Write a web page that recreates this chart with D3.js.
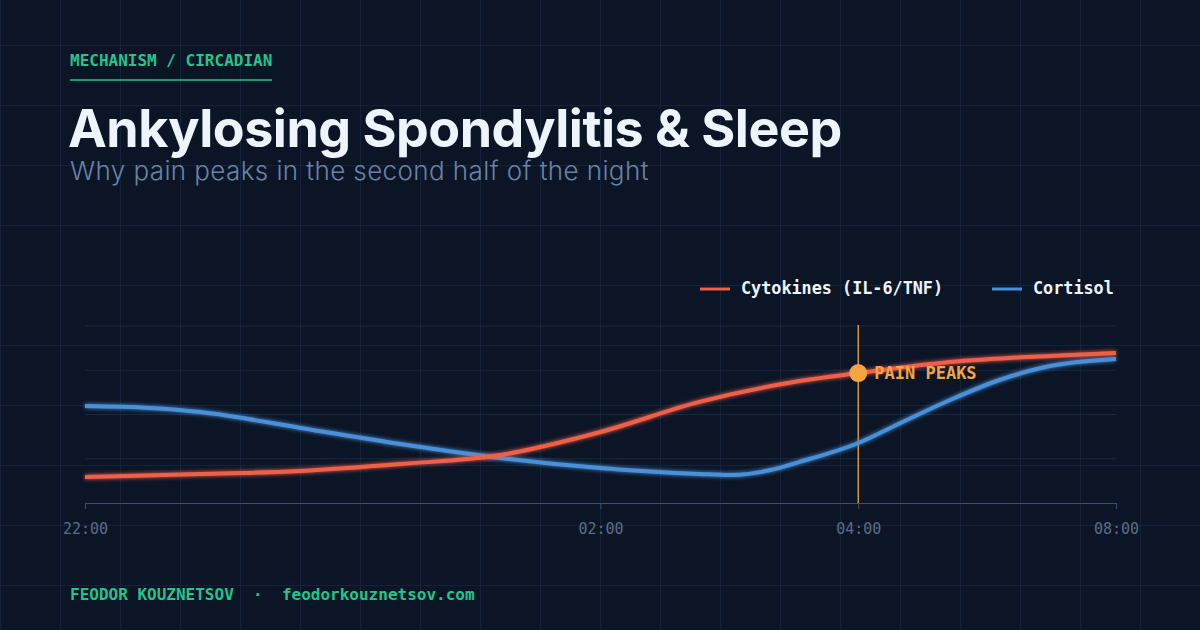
<!DOCTYPE html>
<html><head><meta charset="utf-8">
<script src="https://cdn.jsdelivr.net/npm/d3@7/dist/d3.min.js"></script>
<style>html,body{margin:0;padding:0;background:#0b1526;}svg{display:block}</style>
</head><body><svg id="c" width="1200" height="630"></svg>
<script>
const tickIdx = [0, 50, 75, 100];
const tickLabels = ["22:00", "02:00", "04:00", "08:00"];
const cytoX = [0, 11.2, 20.9, 30.6, 40.3, 50, 59.6, 69.3, 75, 83.9, 93.6, 100];
const cytoY = [14.7, 16.4, 18.1, 22.0, 27.1, 40.1, 57.1, 68.9, 73.4, 79.7, 83.1, 84.7];
const cortX = [0, 6.3, 11.2, 20.9, 30.6, 40.3, 50, 59.6, 62.6, 66.5, 69.3, 75, 79.1, 83.9, 88.7, 93.6, 100];
const cortY = [54.8, 53.7, 51.4, 42.4, 33.3, 25.4, 19.8, 16.4, 15.8, 18.6, 23.2, 33.9, 45.2, 58.2, 69.5, 77.4, 81.4];
const peakIdx = 75, peakVal = 73.4;
const yGrid = [25, 50, 75, 100];

const svg = d3.select("#c");
const defs = svg.append("defs");
const f = defs.append("filter").attr("id","glow").attr("x","-10%").attr("y","-50%").attr("width","120%").attr("height","200%");
f.append("feGaussianBlur").attr("stdDeviation",2).attr("result","b");
const m = f.append("feMerge"); m.append("feMergeNode").attr("in","b"); m.append("feMergeNode").attr("in","SourceGraphic");

const bg = svg.append("g").attr("stroke","#14223a").attr("stroke-width",1);
d3.range(0,1201,60).forEach(x=>bg.append("line").attr("x1",x+0.5).attr("x2",x+0.5).attr("y1",0).attr("y2",630));
d3.range(45,631,60).forEach(y=>bg.append("line").attr("x1",0).attr("x2",1200).attr("y1",y+0.5).attr("y2",y+0.5));

const mono = "'DejaVu Sans Mono', 'Liberation Mono', monospace";
svg.append("text").attr("x",70).attr("y",66).text("MECHANISM / CIRCADIAN")
  .attr("fill","#22c58b").attr("font-family",mono).attr("font-weight","bold").attr("font-size",16);
svg.append("line").attr("x1",70).attr("x2",272).attr("y1",80).attr("y2",80).attr("stroke","#22c58b").attr("stroke-width",1.5);
svg.append("text").attr("x",68).attr("y",147).text("Ankylosing Spondylitis & Sleep")
  .attr("fill","#eef4fc").attr("font-family","Inter, Lato, sans-serif").attr("font-weight",700).attr("font-size",52).attr("letter-spacing",-0.5);
svg.append("text").attr("x",70).attr("y",180).text("Why pain peaks in the second half of the night")
  .attr("fill","#6a82a6").attr("font-family","Inter, Lato, sans-serif").attr("font-weight",300).attr("font-size",26).attr("letter-spacing",0.4);

const x = d3.scaleLinear().domain([0,100]).range([85,1116]);
const y = d3.scaleLinear().domain([0,100]).range([503,326]);

const g = svg.append("g");
yGrid.forEach(v=>g.append("line").attr("x1",85).attr("x2",1116).attr("y1",y(v)).attr("y2",y(v)).attr("stroke","#1a2940").attr("stroke-width",1));

const ax = g.append("g").attr("transform","translate(0,503)")
  .call(d3.axisBottom(x).tickValues(tickIdx).tickFormat((d,i)=>tickLabels[i]).tickSizeInner(6).tickSizeOuter(0).tickPadding(14));
ax.select(".domain").attr("stroke","#3a4f70");
ax.selectAll(".tick line").attr("stroke","#3a4f70");
ax.selectAll(".tick text").attr("fill","#5b6d88").attr("font-family",mono).attr("font-size",15);

const line = d3.line().curve(d3.curveMonotoneX);
g.append("line").attr("x1",x(peakIdx)).attr("x2",x(peakIdx)).attr("y1",325).attr("y2",503).attr("stroke","#f5a442").attr("stroke-width",1.3);
g.append("path").attr("d",line(cortX.map((d,i)=>[x(d),y(cortY[i])]))).attr("fill","none").attr("stroke","#4a90d9").attr("stroke-width",4).attr("filter","url(#glow)");
g.append("path").attr("d",line(cytoX.map((d,i)=>[x(d),y(cytoY[i])]))).attr("fill","none").attr("stroke","#f0604a").attr("stroke-width",4).attr("filter","url(#glow)");
g.append("circle").attr("cx",x(peakIdx)).attr("cy",y(peakVal)).attr("r",9).attr("fill","#f5a442");
g.append("text").attr("x",x(peakIdx)+16).attr("y",y(peakVal)+6).text("PAIN PEAKS").attr("fill","#f5a442").attr("font-family",mono).attr("font-weight","bold").attr("font-size",17);

[["Cytokines (IL-6/TNF)","#f0604a",700],["Cortisol","#4a90d9",992]].forEach(([t,c,lx])=>{
  svg.append("line").attr("x1",lx).attr("x2",lx+30).attr("y1",289).attr("y2",289).attr("stroke",c).attr("stroke-width",3);
  svg.append("text").attr("x",lx+41).attr("y",294).text(t).attr("fill","#eef4fc").attr("font-family",mono).attr("font-weight","bold").attr("font-size",16.8);
});

svg.append("text").attr("x",70).attr("y",600).text("FEODOR KOUZNETSOV  ·  feodorkouznetsov.com").attr("xml:space","preserve")
  .attr("fill","#22c58b").attr("font-family",mono).attr("font-weight","bold").attr("font-size",16);
</script></body></html>
